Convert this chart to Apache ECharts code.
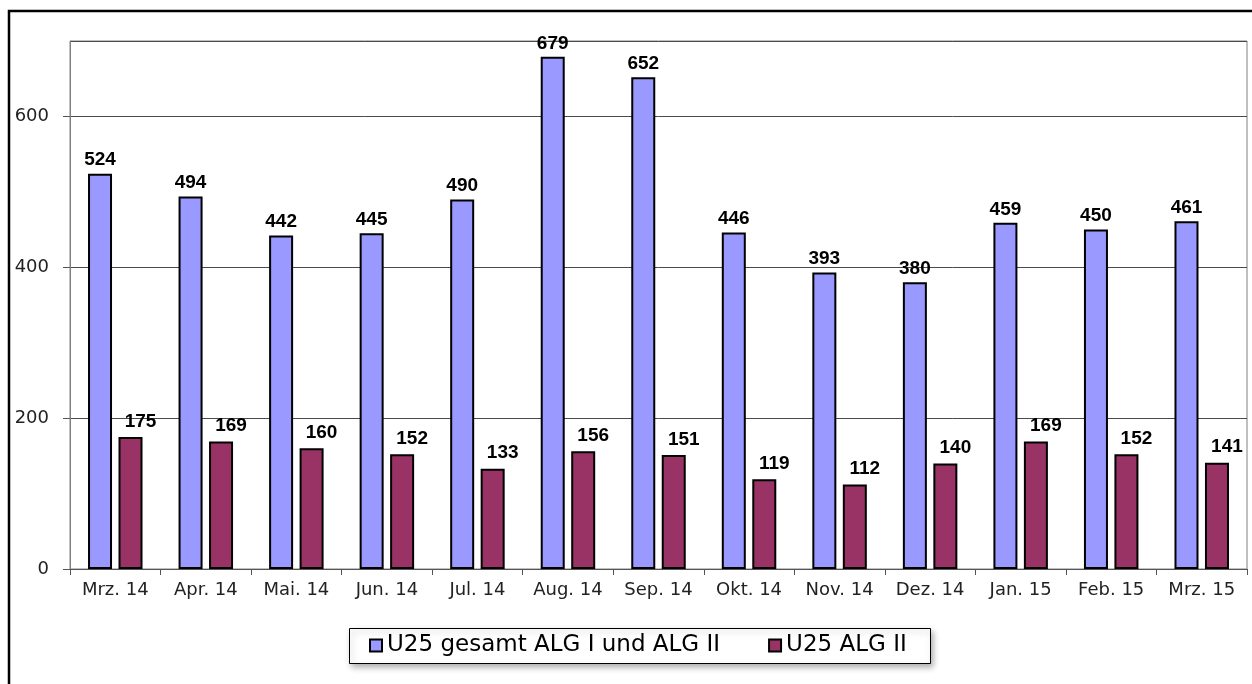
<!DOCTYPE html>
<html>
<head>
<meta charset="utf-8">
<script src="https://cdn.jsdelivr.net/npm/echarts@6/dist/echarts.min.js"></script>
<style>
  html, body { margin: 0; padding: 0; background: #fff; }
  #chart { width: 1252px; height: 684px; }
</style>
</head>
<body>
<div id="chart"></div>
<script>
// Monate
var months = ['Mrz. 14', 'Apr. 14', 'Mai. 14', 'Jun. 14', 'Jul. 14', 'Aug. 14', 'Sep. 14',
              'Okt. 14', 'Nov. 14', 'Dez. 14', 'Jan. 15', 'Feb. 15', 'Mrz. 15'];
// U25 gesamt ALG I und ALG II
var gesamt = [524, 494, 442, 445, 490, 679, 652, 446, 393, 380, 459, 450, 461];
// U25 ALG II
var alg2 = [175, 169, 160, 152, 133, 156, 151, 119, 112, 140, 169, 152, 141];
var seriesNames = ['U25 gesamt ALG I und ALG II', 'U25 ALG II'];

var myChart = echarts.init(document.getElementById('chart'));

var labelStyle = {
    show: true,
    position: 'top',
    distance: 4,
    color: '#000',
    fontFamily: 'Liberation Sans',
    fontWeight: 'bold',
    fontSize: 19
};

var option = {
    backgroundColor: '#fff',
    animation: false,
    graphic: [
        // äußerer Rahmen (rechts/unten abgeschnitten)
        { type: 'rect', shape: { x: 9, y: 11, width: 1400, height: 800 },
          style: { fill: 'none', stroke: '#000', lineWidth: 2.5 }, z: 0 },
        // Legendenkasten mit Schatten
        { type: 'rect', shape: { x: 349.5, y: 628.5, width: 581, height: 35 },
          style: { fill: '#fff', stroke: '#000', lineWidth: 1,
                   shadowBlur: 6, shadowOffsetX: 2, shadowOffsetY: 3, shadowColor: 'rgba(0,0,0,0.3)' },
          z: 1 }
    ],
    grid: {
        left: 70, right: 5, top: 41, bottom: 115,
        show: true, borderColor: '#808080', borderWidth: 1
    },
    legend: {
        data: seriesNames,
        left: 369,
        top: 634,
        padding: 0,
        itemGap: 48,
        itemWidth: 12,
        itemHeight: 12,
        icon: 'rect',
        itemStyle: { borderColor: '#000', borderWidth: 2 },
        textStyle: { fontFamily: 'DejaVu Sans', fontSize: 23, color: '#000' },
        z: 5
    },
    xAxis: {
        type: 'category',
        data: months,
        axisLine: { lineStyle: { color: '#555', width: 1 } },
        axisTick: { show: true, length: 6, lineStyle: { color: '#555' } },
        axisLabel: { fontFamily: 'DejaVu Sans', fontSize: 18, color: '#222', margin: 12 }
    },
    yAxis: {
        type: 'value',
        min: 0, max: 700, interval: 200,
        axisLine: { show: true, lineStyle: { color: '#808080' } },
        axisTick: { show: true, length: 7, lineStyle: { color: '#555' } },
        axisLabel: { fontFamily: 'DejaVu Sans', fontSize: 18, color: '#222', margin: 21,
                     showMaxLabel: false },
        splitLine: { show: true, lineStyle: { color: '#4a4a4a', width: 1 } }
    },
    series: [
        {
            name: seriesNames[0],
            type: 'bar',
            data: gesamt,
            barWidth: 24,
            barGap: '27%',
            itemStyle: { color: '#9999FF', borderColor: '#000', borderWidth: 2 },
            label: labelStyle
        },
        {
            name: seriesNames[1],
            type: 'bar',
            data: alg2,
            barWidth: 24,
            barGap: '27%',
            itemStyle: { color: '#993366', borderColor: '#000', borderWidth: 2 },
            label: Object.assign({}, labelStyle, { offset: [10, -2] })
        }
    ]
};

myChart.setOption(option);
</script>
</body>
</html>
